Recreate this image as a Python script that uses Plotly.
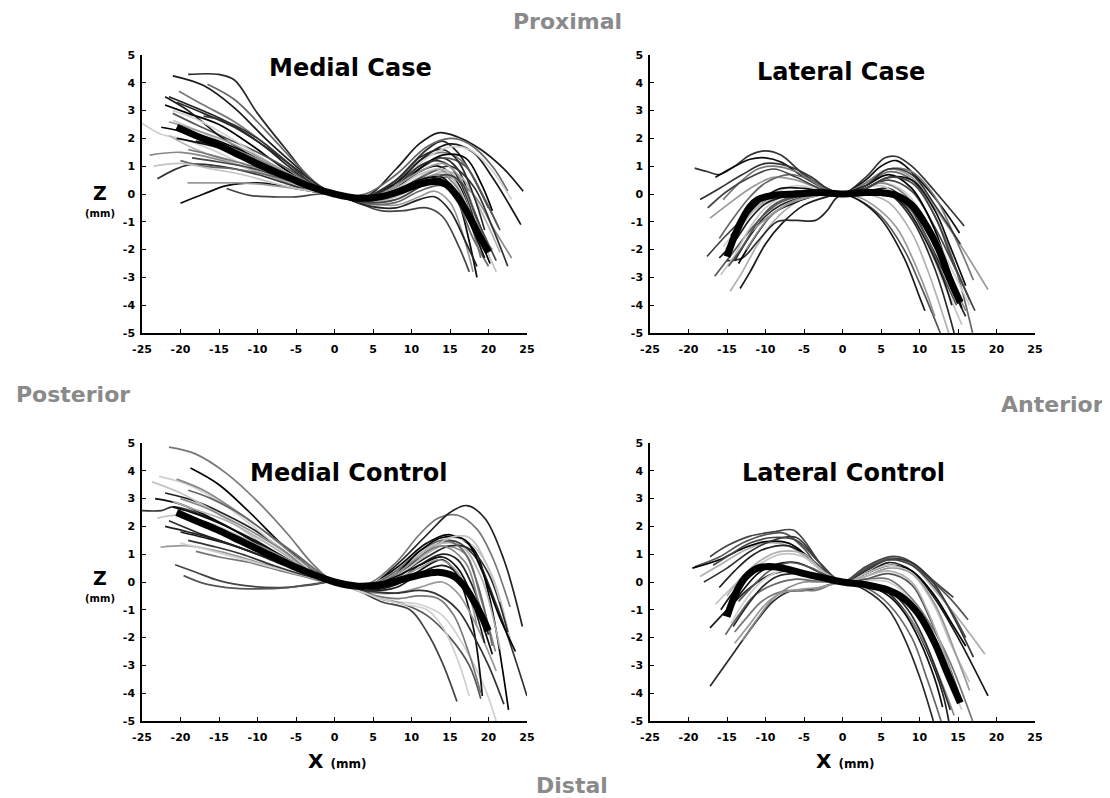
import plotly.graph_objects as go

# ---------------- data: Medial Case ----------------
MC_X = [
    [-21, -17, -13, -9, -5, -2, 0, 4, 8, 11, 13.5, 16, 19, 22, 24.5],
    [-19, -15, -13, -10, -6, -3, 0, 4, 8, 12, 14, 16, 18, 20],
    [-16.5, -13, -9, -5, -2, 0, 4, 8, 12, 15, 17.5, 20.5, 22.5],
    [-20.2, -17, -13, -9, -5, -2, 0, 4, 8, 11, 14, 16.5, 19, 21.3],
    [-21.5, -18, -14, -10, -6, -3, 0, 4, 8, 11, 14, 16, 18, 19.5],
    [-22, -19, -15, -11, -7, -3, 0, 4, 8, 11, 13.5, 16, 18, 20.2],
    [-25, -22.5, -20, -16, -12, -8, -4, 0, 4, 8, 11, 14, 16, 18.5],
    [-21, -18, -14, -10, -6, -3, 0, 4, 8, 11, 14, 17, 19, 21],
    [-24, -20, -16, -12, -8, -4, 0, 4, 8, 12, 15, 18, 21, 23],
    [-23, -19, -15, -10, -6, -3, 0, 4, 8, 12, 15, 18, 20.5, 22.5],
    [-20, -17, -14, -10, -6, -3, 0, 4, 8, 11, 14, 16, 17.5, 18.5],
    [-19.1, -15, -12, -8, -4, 0, 4, 8, 11, 13, 15, 16.5, 18],
    [-14, -11, -8, -5, -2, 0, 3, 6, 9, 12, 14, 16, 17.5],
    [-21, -18, -14, -10, -6, -3, 0, 4, 8, 11, 14, 17, 19.5, 21.5],
    [-21.5, -18, -14, -10, -6, -3, 0, 4, 8, 11, 14, 16.5, 19, 21.5],
    [-22, -19, -15, -11, -7, -3, 0, 4, 8, 12, 15, 18, 20.5, 24.2],
    [-20.5, -17, -13, -9, -5, -2, 0, 4, 8, 11, 14, 16, 18, 19.5],
    [-20, -17, -13, -9, -5, -2, 0, 4, 8, 11, 14, 16, 18, 20],
    [-19, -16, -12, -8, -5, -2, 0, 4, 8, 11, 13.5, 15.5, 17.5, 19],
    [-18, -15, -12, -8, -5, -2, 0, 4, 8, 11, 13, 15, 17, 18.5],
    [-22.5, -19, -15, -11, -7, -3, 0, 4, 8, 11, 14, 17, 19, 20.5],
    [-21, -18, -14, -10, -6, -3, 0, 4, 8, 12, 15, 17.5, 20, 23],
    [-23.5, -20, -16, -12, -8, -4, 0, 4, 8, 11, 14, 16, 18, 19],
    [-19.5, -16, -12, -8, -4, 0, 4, 8, 11, 14, 16, 18, 20.5],
    [-17, -14, -10, -6, -3, 0, 4, 8, 11, 13, 15, 17, 19],
    [-20.5, -17, -13, -9, -5, -2, 0, 4, 8, 11, 13, 15, 17, 19.5],
    [-21.5, -18, -14, -10, -6, -3, 0, 4, 8, 11, 14, 16, 18, 20],
    [-18.5, -15, -11, -7, -4, -2, 0, 4, 8, 12, 14.5, 16.5, 18.5, 21],
]
MC_Z = [
    [4.25, 3.9, 3.1, 2.0, 1.0, 0.3, 0, -0.1, 0.9, 1.8, 2.2, 2.05, 1.6, 0.9, 0.1],
    [4.3, 4.3, 4.1, 2.9, 1.5, 0.5, 0, -0.2, 0.5, 1.6, 1.9, 1.5, 0.6, -0.5],
    [3.95, 3.4, 2.3, 1.1, 0.3, 0, 0, 0.7, 1.7, 2.0, 1.8, 1.0, 0.1],
    [3.7, 3.2, 2.6, 1.8, 0.9, 0.3, 0, -0.1, 0.5, 1.2, 1.5, 1.2, 0.1, -1.2],
    [3.5, 3.1, 2.6, 1.9, 1.0, 0.35, 0, -0.15, 0.4, 1.0, 1.3, 0.9, -0.5, -1.6],
    [3.2, 2.9, 2.5, 1.8, 1.0, 0.3, 0, -0.2, 0.2, 0.8, 1.0, 0.4, -1.0, -2.5],
    [2.55, 2.15, 2.0, 1.6, 1.1, 0.7, 0.3, 0, -0.2, 0.2, 0.7, 0.8, -0.2, -3.0],
    [2.65, 2.3, 1.8, 1.3, 0.7, 0.25, 0, -0.25, 0.1, 0.6, 0.9, 0.2, -1.5, -2.8],
    [1.4, 1.5, 1.3, 1.0, 0.6, 0.2, 0, -0.3, -0.2, 0.4, 0.6, 0.0, -1.4, -2.3],
    [0.55, 1.05, 1.0, 0.7, 0.35, 0.1, 0, -0.2, 0.1, 0.7, 1.0, 0.3, -1.2, -2.6],
    [-0.33, 0.0, 0.3, 0.4, 0.25, 0.1, 0, -0.2, 0.1, 0.5, 0.6, -0.2, -1.7, -3.0],
    [0.4, 0.4, 0.4, 0.3, 0.15, 0, -0.3, -0.4, -0.1, 0.1, -0.3, -1.3, -2.8],
    [0.2, -0.05, -0.1, -0.1, 0.0, 0, -0.3, -0.6, -0.6, -0.5, -0.8, -1.8, -2.8],
    [2.9, 2.5, 2.0, 1.5, 0.9, 0.35, 0, -0.15, 0.3, 0.9, 1.3, 1.0, -0.2, -1.3],
    [2.1, 1.6, 1.2, 0.8, 0.45, 0.15, 0, -0.3, -0.1, 0.4, 0.8, 0.6, -0.6, -2.1],
    [3.5, 3.0, 2.1, 1.4, 0.7, 0.25, 0, -0.3, 0.4, 1.4, 1.8, 1.5, 0.6, -1.1],
    [3.3, 2.9, 2.4, 1.7, 0.9, 0.3, 0, -0.1, 0.5, 1.3, 1.6, 1.2, 0.0, -1.3],
    [1.2, 1.0, 0.9, 0.7, 0.4, 0.1, 0, -0.35, -0.3, 0.1, 0.3, -0.3, -1.6, -2.6],
    [1.6, 1.4, 1.1, 0.8, 0.5, 0.15, 0, -0.25, 0.0, 0.5, 0.9, 0.5, -0.9, -2.3],
    [1.9, 1.7, 1.4, 1.0, 0.55, 0.15, 0, -0.4, -0.5, -0.2, -0.1, -0.6, -1.7, -2.6],
    [2.4, 2.2, 1.9, 1.4, 0.8, 0.25, 0, -0.2, 0.2, 0.9, 1.4, 1.3, 0.4, -0.6],
    [3.0, 2.7, 2.1, 1.4, 0.7, 0.2, 0, -0.2, 0.3, 1.3, 1.7, 1.6, 1.0, -0.2],
    [1.0, 1.1, 0.9, 0.7, 0.4, 0.15, 0, -0.15, 0.2, 0.7, 0.9, 0.3, -1.0, -2.0],
    [2.2, 1.9, 1.5, 1.0, 0.5, 0, -0.2, 0.0, 0.5, 0.7, 0.2, -1.1, -2.0],
    [2.8, 2.6, 2.0, 1.1, 0.4, 0, -0.15, 0.3, 1.0, 1.2, 1.0, 0.0, -1.8],
    [2.0, 1.8, 1.5, 1.05, 0.55, 0.2, 0, -0.2, 0.15, 0.5, 0.6, 0.3, -0.7, -2.3],
    [2.6, 2.3, 1.9, 1.35, 0.75, 0.25, 0, -0.2, 0.3, 0.8, 1.1, 0.7, -0.6, -2.0],
    [1.3, 1.15, 0.95, 0.6, 0.3, 0.1, 0, -0.3, -0.2, 0.4, 0.7, 0.4, -0.9, -2.4],
]
MC_MEAN_X = [-20.5, -18, -15, -12, -9, -6, -3, 0, 3, 6, 9, 11, 13, 14.5, 16, 17.5, 19, 20]
MC_MEAN_Z = [2.4, 2.1, 1.75, 1.35, 0.95, 0.6, 0.25, 0, -0.15, -0.1, 0.15, 0.35, 0.45, 0.35, -0.1, -0.8, -1.6, -2.1]

# ---------------- data: Lateral Case ----------------
LC_X = [
    [-19.2, -17.5, -16, -14, -12, -10, -8, -5, -2, 0, 3, 5.5, 7, 9, 12, 15.8],
    [-16.5, -14, -12, -10, -8, -5, -2, 0, 3, 5, 7, 10, 13, 15.2],
    [-17.2, -15, -12, -9, -6, -3, 0, 3, 6, 9, 12, 15, 18.9],
    [-17.6, -15.5, -13, -11, -9, -6, -3, 0, 3, 6, 9, 12, 14.5, 17.2],
    [-16.6, -14.5, -12, -10, -8, -5, -2, 0, 2, 5, 8, 10, 12.7],
    [-14.6, -13, -11, -9, -6, -3, 0, 3, 6, 9, 11, 13.8],
    [-13.3, -12, -10, -8, -5, -2, 0, 2, 5, 8, 10, 10.7],
    [-15, -13, -11, -8.5, -6, -3.5, -2, -1, 0, 3, 6, 9, 12, 14.5],
    [-16, -14, -12, -10, -7, -4, -2, 0, 3, 6, 9, 12, 14.5, 16.9],
    [-15.5, -13, -11, -9, -6, -3, 0, 3, 6, 9, 12, 15, 17],
    [-14, -12, -10, -8, -5, -2, 0, 3, 6, 8, 11, 14, 16],
    [-13.5, -11.5, -9, -7, -4, -2, 0, 3, 6, 9, 12, 14, 15.5],
    [-15.5, -13.5, -11, -9, -6, -3, 0, 2, 5, 8, 11, 14, 16.5],
    [-15.8, -14, -12, -10, -7, -4, -2, 0, 2, 5, 8, 11, 13, 15.5],
    [-12.5, -10, -8, -6, -3, 0, 3, 5, 8, 11, 14, 16],
    [-18.5, -16, -13, -10, -7, -4, -2, 0, 3, 6, 9, 12, 15.3],
    [-14.5, -12.5, -10, -8, -5, -2, 0, 3, 6, 9, 12, 14, 16],
    [-12, -10, -8, -6, -3, 0, 2, 4, 7, 10, 12],
    [-17.5, -15, -12, -9, -6, -3, 0, 3, 6, 9, 12, 14, 16.5],
    [-14.8, -13, -11, -9, -6, -3, 0, 3, 6, 9, 11, 13, 14.8],
    [-15.2, -13.5, -11.5, -9.5, -7, -4, 0, 3, 6, 8.5, 11, 13, 15],
    [-16, -14, -12, -10, -7, -4, 0, 3, 5.5, 8, 10.5, 13, 14.2],
]
LC_Z = [
    [0.93, 0.8, 0.7, 1.0, 1.4, 1.55, 1.4, 0.7, 0.2, 0, 0.6, 1.3, 1.35, 1.0, 0.1, -1.15],
    [0.6, 1.0, 1.25, 1.3, 1.15, 0.6, 0.15, 0, 0.5, 1.0, 1.2, 0.5, -0.5, -1.4],
    [-0.87, -0.4, 0.2, 0.6, 0.5, 0.2, 0, 0.4, 0.9, 0.6, -0.5, -1.7, -3.44],
    [-2.25, -1.6, -0.9, -0.4, -0.1, 0.1, 0.05, 0, 0.2, 0.5, 0.1, -1.2, -2.6, -4.2],
    [-2.96, -2.2, -1.3, -0.7, -0.3, -0.05, 0.0, 0, -0.2, -0.8, -2.0, -3.2, -5.0],
    [-3.5, -2.8, -1.8, -1.0, -0.3, 0.0, 0, 0.0, -0.3, -1.4, -2.7, -5.0],
    [-3.4, -2.8, -1.8, -1.1, -0.4, -0.1, 0, -0.2, -0.9, -2.3, -3.7, -4.2],
    [-2.4, -2.3, -1.7, -1.0, -0.95, -0.95, -0.6, -0.2, 0, 0.0, 0.0, -0.9, -2.7, -5.0],
    [-1.6, -0.8, -0.1, 0.4, 0.7, 0.5, 0.2, 0, 0.3, 0.8, 0.5, -0.8, -2.5, -5.0],
    [-0.2, 0.5, 0.9, 1.0, 0.8, 0.3, 0, 0.4, 0.9, 0.8, -0.1, -1.8, -3.1],
    [-2.4, -1.5, -0.8, -0.4, -0.1, 0.0, 0, 0.1, 0.2, -0.2, -1.6, -3.3, -4.4],
    [-2.5, -1.6, -0.7, -0.4, -0.1, 0.0, 0, 0.3, 0.7, 0.2, -1.3, -2.9, -4.1],
    [-1.9, -1.2, -0.4, 0.0, 0.3, 0.15, 0, 0.1, 0.4, 0.1, -1.0, -2.6, -4.0],
    [-2.9, -2.2, -1.2, -0.5, 0.0, 0.1, 0.05, 0, 0.1, 0.3, -0.3, -1.8, -3.1, -4.7],
    [-2.0, -1.0, -0.5, -0.2, 0.0, 0, 0.2, 0.4, 0.0, -1.3, -3.0, -4.2],
    [-0.2, 0.2, 0.7, 1.1, 1.0, 0.6, 0.2, 0, 0.3, 0.9, 0.7, -0.4, -1.8],
    [-1.5, -0.8, -0.1, 0.2, 0.2, 0.05, 0, 0.2, 0.6, 0.5, -0.6, -1.9, -3.3],
    [-1.4, -0.9, -0.5, -0.25, -0.05, 0, -0.1, -0.4, -1.2, -2.9, -4.4],
    [-0.5, 0.1, 0.6, 0.9, 0.6, 0.2, 0, 0.2, 0.6, 0.4, -0.8, -2.2, -3.8],
    [-2.6, -1.9, -1.0, -0.4, -0.05, 0.05, 0, 0.05, 0.0, -0.6, -1.6, -2.9, -4.0],
    [-2.0, -1.3, -0.6, -0.2, 0.05, 0.05, 0, 0.0, 0.1, -0.3, -1.3, -2.5, -3.8],
    [-2.3, -1.7, -0.9, -0.35, -0.05, 0.05, 0, 0.05, 0.1, -0.4, -1.5, -3.0, -4.0],
]
LC_MEAN_X = [-15, -14, -13, -12, -11, -9, -6, -3, 0, 3, 5, 7, 9, 11, 12.5, 14, 15.3]
LC_MEAN_Z = [-2.25, -1.5, -0.9, -0.45, -0.2, -0.05, 0.0, 0.05, 0, 0.05, 0.05, -0.05, -0.4, -1.2, -2.0, -3.1, -3.9]

# ---------------- data: Medial Control ----------------
MK_X = [
    [-21.5, -18, -14, -10, -6, -3, 0, 4, 8, 11, 13.5, 16, 18.5, 20.5, 22.8],
    [-22, -18, -14, -10, -6, -3, 0, 4, 8, 12, 15, 17.2, 19.5, 22, 24.4],
    [-18.7, -15, -11, -7, -4, -2, 0, 4, 8, 12, 15, 18, 20, 22.6],
    [-22.8, -19, -15, -11, -7, -3, 0, 4, 8, 11, 14, 17, 19.5, 21],
    [-23.7, -20, -16, -12, -8, -4, 0, 4, 8, 12, 15, 18, 20.5, 23],
    [-20.5, -17, -13, -9, -5, -2, 0, 4, 8, 11, 14, 17, 19, 20.9],
    [-25, -22.5, -21, -18, -14, -10, -6, -3, 0, 4, 8, 12, 15, 18, 21, 25],
    [-23.3, -20, -16, -12, -8, -4, 0, 4, 8, 11, 14, 16, 18, 19.2],
    [-22.6, -19, -15, -11, -7, -3, 0, 4, 8, 11, 14, 16, 18.5, 21],
    [-20.7, -18, -15, -11, -7, -3, 0, 3, 6, 9.8, 12, 14, 15.9],
    [-19.6, -17, -14, -10, -6, -3, 0, 3, 6, 9, 12, 15, 17.5, 19],
    [-21, -18, -14, -10, -6, -3, 0, 4, 8, 11, 14, 16.5, 19, 21.5],
    [-20, -17, -13, -9, -5, -2, 0, 4, 8, 11, 14, 16, 18, 19.5],
    [-21.5, -18, -14, -10, -6, -3, 0, 4, 8, 12, 15, 17.5, 20, 22.5],
    [-19, -16, -12, -8, -5, -2, 0, 4, 8, 11, 14, 16.5, 18.5, 20.5],
    [-18, -15, -11, -7, -4, -2, 0, 4, 8, 11, 13.5, 15.5, 17.5, 19],
    [-22, -19, -15, -11, -7, -3, 0, 4, 8, 11, 14, 16, 18, 20],
    [-17, -14, -10, -6, -3, 0, 4, 8, 11, 14, 17, 19, 21.5, 23.5],
    [-20, -17, -13, -9, -5, -2, 0, 3, 6, 9, 12, 14, 16, 17.5],
    [-23, -20, -16, -12, -8, -4, 0, 4, 8, 12, 15, 17.5, 20, 21.5],
    [-20, -17, -14, -10, -6, -3, 0, 4, 8, 11, 14, 17, 18.5, 19.5],
    [-19, -16, -12, -8, -4, 0, 4, 8, 11, 13, 16, 18, 20, 22],
    [-21, -18, -14, -10, -6, -3, 0, 4, 8, 11, 14, 16, 18, 20.5],
    [-20, -17, -13, -9, -5, -2, 0, 4, 8, 11, 13.5, 15.5, 17.5, 18.5],
]
MK_Z = [
    [4.85, 4.6, 3.9, 2.9, 1.7, 0.7, 0, -0.1, 0.7, 1.7, 2.3, 2.4, 1.9, 0.9, -0.9],
    [3.2, 2.9, 2.4, 1.8, 1.0, 0.35, 0, -0.2, 0.6, 1.7, 2.5, 2.75, 2.3, 0.8, -1.6],
    [4.1, 3.5, 2.5, 1.4, 0.7, 0.25, 0, -0.2, 0.5, 1.4, 1.7, 1.2, -0.4, -4.6],
    [3.8, 3.5, 2.9, 2.1, 1.2, 0.4, 0, -0.4, -0.7, -0.8, -1.2, -2.4, -3.8, -5.0],
    [3.6, 3.2, 2.6, 1.9, 1.1, 0.4, 0, -0.2, 0.3, 1.2, 1.6, 1.3, 0.2, -2.3],
    [3.7, 3.3, 2.6, 1.8, 0.9, 0.3, 0, -0.3, 0.1, 0.8, 1.3, 1.0, -0.6, -2.5],
    [2.57, 2.57, 2.7, 2.5, 2.0, 1.4, 0.8, 0.3, 0, -0.3, 0.2, 1.1, 1.5, 1.0, -0.8, -4.1],
    [3.0, 2.8, 2.3, 1.7, 1.0, 0.35, 0, -0.3, -0.1, 0.4, 0.8, 0.2, -1.6, -4.1],
    [1.25, 1.3, 1.1, 0.8, 0.45, 0.15, 0, -0.35, -0.4, -0.2, 0.0, -0.4, -1.6, -3.2],
    [0.62, 0.35, 0.05, -0.15, -0.2, -0.1, 0, -0.3, -0.7, -1.0, -1.8, -2.9, -4.3],
    [0.23, -0.05, -0.2, -0.25, -0.2, -0.08, 0, -0.2, -0.6, -0.8, -1.2, -2.0, -3.0, -4.2],
    [2.9, 2.6, 2.2, 1.6, 0.9, 0.35, 0, -0.15, 0.4, 1.0, 1.4, 1.3, 0.2, -2.4],
    [1.8, 1.6, 1.3, 0.9, 0.5, 0.15, 0, -0.3, -0.2, 0.3, 0.6, 0.3, -0.8, -2.2],
    [2.2, 1.8, 1.4, 1.0, 0.6, 0.2, 0, -0.25, 0.2, 0.9, 1.3, 1.2, 0.3, -1.8],
    [3.3, 3.0, 2.4, 1.6, 1.0, 0.35, 0, -0.2, 0.4, 1.1, 1.5, 1.2, 0.0, -2.3],
    [1.1, 0.9, 0.7, 0.4, 0.2, 0.05, 0, -0.4, -0.6, -0.5, -0.6, -1.2, -2.6, -4.0],
    [2.0, 1.8, 1.5, 1.1, 0.65, 0.2, 0, -0.3, 0.0, 0.6, 1.0, 0.8, -0.2, -1.9],
    [2.0, 1.8, 1.3, 0.7, 0.25, 0, -0.2, 0.3, 1.1, 1.6, 1.5, 0.5, -1.3, -2.5],
    [1.4, 1.2, 0.9, 0.6, 0.3, 0.1, 0, -0.3, -0.6, -0.8, -1.0, -1.6, -2.8, -4.1],
    [2.3, 2.4, 2.1, 1.6, 1.0, 0.35, 0, -0.25, 0.2, 1.0, 1.6, 1.6, 0.5, -0.7],
    [3.0, 2.7, 2.3, 1.7, 1.0, 0.35, 0, -0.2, 0.3, 0.9, 1.3, 0.7, -0.5, -1.8],
    [1.5, 1.3, 1.0, 0.6, 0.25, 0, -0.3, -0.4, -0.3, -0.4, -1.0, -1.9, -3.0, -4.4],
    [2.7, 2.45, 2.0, 1.45, 0.8, 0.3, 0, -0.2, 0.2, 0.6, 0.9, 0.5, -0.6, -2.6],
    [2.4, 2.1, 1.7, 1.2, 0.65, 0.2, 0, -0.2, 0.1, 0.5, 0.8, 0.5, -0.5, -1.6],
]
MK_MEAN_X = [-20.5, -18, -15, -12, -9, -6, -3, 0, 3, 6, 9, 11, 13.5, 15.5, 17, 18.5, 20]
MK_MEAN_Z = [2.5, 2.2, 1.85, 1.45, 1.05, 0.65, 0.3, 0, -0.15, -0.1, 0.1, 0.25, 0.35, 0.2, -0.2, -0.9, -1.75]

# ---------------- data: Lateral Control ----------------
LK_X = [
    [-17.2, -15, -12, -9, -6.4, -5, -3.5, -2, 0, 3, 6.2, 8, 10, 12, 14.4],
    [-19.2, -16, -13, -10, -7.5, -5, -3, 0, 3, 6, 8.5, 11, 14, 16.3],
    [-18.5, -16, -13, -10, -7, -4, -2, 0, 3, 6, 9, 12, 15, 18.5],
    [-17.2, -15, -12, -9, -6, -3, 0, 3, 6, 9, 12, 15, 18.9],
    [-17.2, -14, -11, -9, -7, -5, -3, 0, 3, 6, 8, 10, 11.8],
    [-15.2, -13.5, -11.5, -9, -6, -4, -2, 0, 3, 6, 9, 11, 12.8],
    [-14, -12.5, -10.5, -8, -5.5, -3.5, -1.5, 0, 3, 6, 9, 12, 14, 16.9],
    [-16, -14, -12, -10, -7, -4, -2, 0, 3, 6, 9, 11, 13, 13.8],
    [-19.5, -16, -13, -10, -7, -4, -2, 0, 3, 6, 9, 12, 14, 16],
    [-14.5, -13, -11, -9, -6, -3, 0, 3, 6, 9, 11, 13, 15.5],
    [-16.5, -14, -11, -8, -5, -2.5, 0, 3, 6, 9, 12, 14, 16.5],
    [-13, -11, -9, -7, -5, -3, 0, 3, 6, 9, 11, 13, 14.5],
    [-18, -15, -12, -9, -6, -3, 0, 3, 6, 9, 12, 14.5, 17],
    [-15.5, -13.5, -11, -9, -6, -3, 0, 3, 6, 8, 10, 12, 13],
    [-14, -12, -10, -8, -5, -3, -1, 0, 3, 6, 9, 12, 15, 16.5],
    [-16.8, -14.5, -12, -9, -6, -3, 0, 3, 6, 9, 12, 14, 16],
    [-13.5, -11.5, -9.5, -7, -4, -2, 0, 3, 6, 9, 11, 13, 15],
    [-15, -13, -10.5, -8, -5, -2.5, 0, 3, 6, 9, 11, 13, 15.3],
    [-15.8, -14, -12, -10, -7, -4, 0, 3, 6, 9, 11.5, 13.5, 15],
    [-14.2, -12.5, -10.5, -8.5, -6, -3, 0, 3, 6, 8.5, 10.5, 12.5, 14],
]
LK_Z = [
    [0.91, 1.3, 1.65, 1.8, 1.87, 1.5, 0.9, 0.35, 0, 0.55, 0.91, 0.85, 0.5, 0.0, -0.55],
    [0.55, 0.9, 1.4, 1.7, 1.75, 1.2, 0.5, 0, 0.5, 0.85, 0.75, 0.2, -0.6, -1.36],
    [0.2, 0.6, 1.1, 1.4, 1.3, 0.7, 0.25, 0, 0.4, 0.8, 0.6, -0.3, -1.3, -2.6],
    [-1.65, -1.0, -0.2, 0.3, 0.4, 0.2, 0, 0.3, 0.7, 0.4, -0.6, -2.0, -4.1],
    [-3.75, -2.5, -1.35, -0.7, -0.35, -0.3, -0.2, 0, -0.3, -1.0, -2.0, -3.4, -5.0],
    [-1.9, -1.2, -0.5, -0.1, 0.1, 0.05, 0.0, 0, -0.2, -0.8, -2.0, -3.5, -5.0],
    [-1.8, -1.3, -0.7, -0.35, -0.3, -0.3, -0.1, 0, 0.1, 0.1, -0.6, -1.8, -2.9, -5.0],
    [-0.2, 0.4, 0.9, 1.2, 1.3, 0.8, 0.3, 0, 0.0, -0.4, -1.4, -2.5, -4.0, -5.0],
    [0.5, 0.8, 1.2, 1.45, 1.4, 0.8, 0.3, 0, 0.3, 0.6, 0.4, -0.5, -1.4, -2.3],
    [-1.5, -0.8, -0.1, 0.3, 0.45, 0.25, 0, 0.05, 0.0, -0.7, -1.7, -3.0, -4.6],
    [-0.8, -0.1, 0.6, 1.0, 0.9, 0.35, 0, 0.3, 0.6, 0.3, -0.9, -2.2, -3.6],
    [-2.1, -1.3, -0.6, -0.2, 0.0, 0.0, 0, -0.1, -0.5, -1.4, -2.4, -3.7, -4.8],
    [0.0, 0.5, 1.1, 1.5, 1.6, 0.7, 0, 0.4, 0.8, 0.7, -0.1, -1.3, -2.7],
    [-1.2, -0.5, 0.3, 0.6, 0.7, 0.35, 0, -0.1, -0.5, -1.1, -2.1, -3.5, -4.5],
    [-2.2, -1.5, -0.8, -0.4, -0.25, -0.2, -0.05, 0, 0.2, 0.5, 0.3, -0.8, -2.8, -3.9],
    [0.6, 1.0, 1.4, 1.6, 1.5, 0.7, 0, 0.45, 0.8, 0.6, -0.2, -1.0, -2.0],
    [-0.7, -0.1, 0.4, 0.7, 0.5, 0.2, 0, 0.1, 0.3, -0.1, -1.1, -2.4, -3.9],
    [-0.5, 0.2, 0.8, 1.1, 1.0, 0.4, 0, 0.2, 0.4, 0.0, -1.0, -2.4, -4.3],
    [-1.0, -0.3, 0.3, 0.55, 0.5, 0.25, 0, -0.1, -0.3, -0.9, -2.0, -3.2, -4.2],
    [-1.6, -0.9, -0.2, 0.2, 0.3, 0.15, 0, -0.05, -0.3, -1.0, -2.0, -3.4, -4.6],
]
LK_MEAN_X = [-15, -14.3, -13.5, -12.5, -11, -9, -7, -5, -2.5, 0, 3, 6, 8, 10, 12, 13.5, 15.3]
LK_MEAN_Z = [-1.25, -0.7, -0.2, 0.2, 0.5, 0.55, 0.45, 0.3, 0.15, 0, -0.1, -0.3, -0.6, -1.2, -2.2, -3.2, -4.35]

PANEL_TITLES = ["Medial Case", "Lateral Case", "Medial Control", "Lateral Control"]
X_TICKS = [-25, -20, -15, -10, -5, 0, 5, 10, 15, 20, 25]
Y_TICKS = [-5, -4, -3, -2, -1, 0, 1, 2, 3, 4, 5]

# ---------------- styling ----------------
# the page body has an 8 px margin, so the figure is 8 px smaller and all
# pixel positions below (measured on the 1110x798 page) are shifted by 8
PAGE_OFF = 8
W, H = 1110 - PAGE_OFF, 798 - PAGE_OFF
GRAYS = ["#1a1a1a", "#555555", "#999999", "#333333", "#c4c4c4", "#000000",
         "#777777", "#2a2a2a", "#b0b0b0", "#444444", "#0d0d0d", "#888888",
         "#d0d0d0", "#222222", "#666666"]
FONT = "DejaVu Sans"


def fx(px):
    return (px - PAGE_OFF) / W


def fy(py):
    return 1 - (py - PAGE_OFF) / H


# plot-area boxes in page pixels: (left, right, top, bottom)
boxes = [(142, 527, 55, 333), (650, 1035, 55, 333),
         (142, 527, 443, 721), (650, 1035, 443, 721)]

panels = [(MC_X, MC_Z, MC_MEAN_X, MC_MEAN_Z),
          (LC_X, LC_Z, LC_MEAN_X, LC_MEAN_Z),
          (MK_X, MK_Z, MK_MEAN_X, MK_MEAN_Z),
          (LK_X, LK_Z, LK_MEAN_X, LK_MEAN_Z)]

fig = go.Figure()
layout = dict(template="none", width=W, height=H, autosize=False,
              margin=dict(l=0, r=0, t=0, b=0, pad=0),
              paper_bgcolor="white", plot_bgcolor="white", showlegend=False)

for i, (cx, cz, mx, mz) in enumerate(panels):
    n = i + 1
    xa = "x" if n == 1 else f"x{n}"
    ya = "y" if n == 1 else f"y{n}"
    for j, (xs, zs) in enumerate(zip(cx, cz)):
        fig.add_trace(go.Scatter(x=xs, y=zs, mode="lines", xaxis=xa, yaxis=ya,
                                 line=dict(color=GRAYS[(j * 7 + i * 3) % len(GRAYS)],
                                           width=1.7, shape="spline", smoothing=1.0),
                                 hoverinfo="skip"))
    fig.add_trace(go.Scatter(x=mx, y=mz, mode="lines", xaxis=xa, yaxis=ya,
                             line=dict(color="black", width=7, shape="spline", smoothing=1.0),
                             hoverinfo="skip"))
    l, r, t, b = boxes[i]
    axis_common = dict(showline=True, linecolor="black", linewidth=1.5, automargin=False,
                       ticks="inside", ticklen=4, tickwidth=1.2, tickcolor="black",
                       showgrid=False, zeroline=False, fixedrange=True,
                       tickfont=dict(family=FONT, size=11, color="black", weight="bold"))
    layout["xaxis" if n == 1 else f"xaxis{n}"] = dict(
        domain=[fx(l), fx(r)], anchor=ya, range=[-25, 25], tickvals=X_TICKS,
        ticktext=[str(v) for v in X_TICKS], ticklabelstandoff=5, **axis_common)
    layout["yaxis" if n == 1 else f"yaxis{n}"] = dict(
        domain=[fy(b), fy(t)], anchor=xa, range=[-5, 5], tickvals=Y_TICKS,
        ticktext=[str(v) for v in Y_TICKS], ticklabelstandoff=3, **axis_common)

fig.update_layout(**layout)


def ann(text, px, py, size, color="black"):
    fig.add_annotation(text=text, x=fx(px), y=fy(py), xref="paper", yref="paper",
                       showarrow=False, xanchor="center", yanchor="middle",
                       font=dict(family=FONT, size=size, color=color, weight="bold"))


title_pos = [(350, 68), (841, 72), (349, 473), (843, 473)]
for t, (px, py) in zip(PANEL_TITLES, title_pos):
    ann(t, px, py, 24)

GRAY_TXT = "#8a8a8a"
ann("Proximal", 567, 22, 22, GRAY_TXT)
ann("Posterior", 73, 395, 22, GRAY_TXT)
ann("Anterior", 1052, 404, 22, GRAY_TXT)
ann("Distal", 572, 785, 22, GRAY_TXT)

ann("Z", 100, 193, 19)
ann("(mm)", 100, 213, 10)
ann("Z", 100, 578, 19)
ann("(mm)", 100, 598, 10)
ann("X <span style='font-size:12px'>(mm)</span>", 337, 761, 20)
ann("X <span style='font-size:12px'>(mm)</span>", 845, 761, 20)

fig.write_html("out.html")
